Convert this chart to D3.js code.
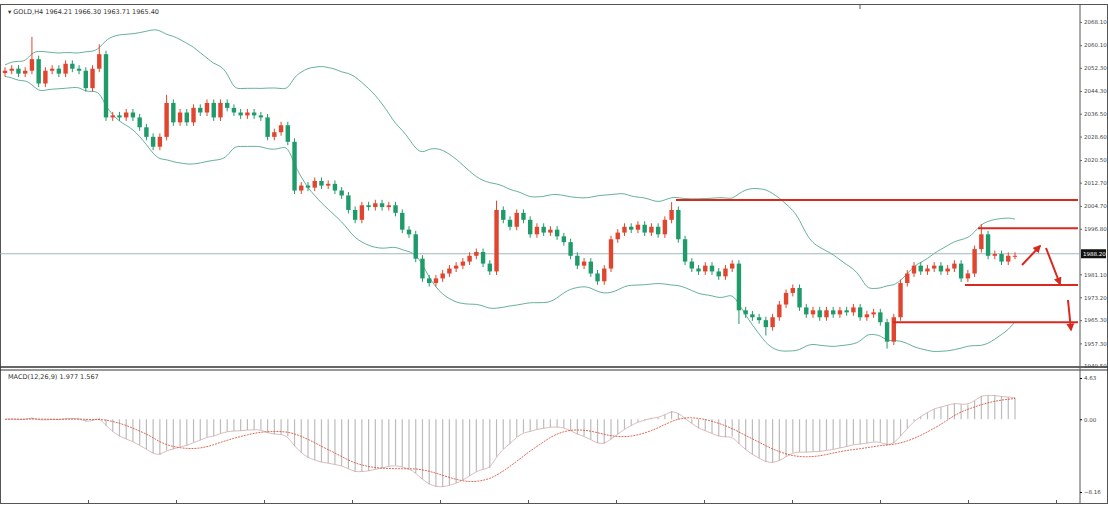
<!DOCTYPE html><html><head><meta charset="utf-8">
<script src="https://cdn.jsdelivr.net/npm/d3@7"></script>
<style>body{margin:0;background:#fff}svg{display:block}text{font-family:"DejaVu Sans",sans-serif}</style></head><body>
<svg id="c" width="1108" height="506"></svg>
<script>
const closes=[2051.3,2052.0,2050.3,2051.3,2055.3,2046.9,2051.3,2052.0,2050.3,2053.7,2052.0,2051.3,2045.3,2052.0,2057.0,
2035.2,2035.9,2035.2,2036.9,2035.2,2031.8,2028.5,2025.1,2028.5,2040.2,2033.5,2036.9,2033.5,2038.5,2036.9,2040.2,2035.2,2040.2,2038.5,2036.9,2035.9,2036.9,2035.9,2035.2,
2028.5,2030.1,2032.5,2026.8,2010.0,2011.7,2011.0,2013.3,2011.7,2012.3,2010.0,2008.3,2003.3,1999.9,2004.9,2004.3,2005.6,2004.3,2004.9,2002.3,
1996.5,1994.9,1986.5,1979.7,1978.1,1979.7,1981.4,1983.1,1984.1,1985.5,1987.5,1988.8,1984.8,1982.1,
2003.3,1999.9,1997.5,2002.3,1999.9,1994.9,1997.5,1995.5,1996.5,1994.2,1992.2,1987.5,1984.1,1985.5,1981.4,1978.7,1983.1,
1993.2,1995.5,1997.5,1996.5,1998.2,1995.5,1997.5,1994.9,1999.9,2003.3,
1993.2,1985.5,1983.1,1982.1,1984.1,1982.1,1980.4,1983.1,1984.8,
1968.7,1967.3,1966.3,1965.3,1962.9,1966.3,1970.7,1974.7,1976.4,1969.7,1967.3,1968.7,1966.3,1968.7,1967.3,1968.7,1968.0,1969.7,1966.3,1967.3,1968.0,1964.6,1957.9,1966.3,
1978.1,1981.4,1984.1,1982.1,1983.1,1984.1,1982.1,1983.1,1984.8,1979.7,1981.4,1989.8,1994.9,1987.5,1988.1,1985.5,1987.5,1987.5];
const firstOpen=2050.5;
const spikes=[{i:4,high:2063.0},{i:14,high:2060.4},{i:24,high:2043},{i:73,high:2006.5},{i:99,high:2006},{i:131,low:1955.5},{i:145,high:1998.5},{i:109,low:1964},{i:113,low:1960}];
const priceTicks=[2068.10,2060.10,2052.30,2044.30,2036.50,2028.60,2020.50,2012.70,2004.70,1996.80,1988.90,1981.10,1973.20,1965.30,1957.30,1949.50];
const levels=[{p:2006.7,x0:676},{p:1997.0,x0:978},{p:1977.4,x0:965},{p:1964.6,x0:893}];
const current=1988.2;
const macdTicks=[4.63,0.00,-8.16];
const header="▾ GOLD,H4  1964.21 1966.30 1963.71 1965.40";
const macdHeader="MACD(12,26,9) 1.977 1.567";

const svg=d3.select("#c");
const W=1108,axisX=1080,topY=4,mainB=367,mTop=370,mB=503;
const y=d3.scaleLinear().domain([2068.1,1949.5]).range([22,366]);
const x=d3.scaleLinear().domain([0,150]).range([5,1015]);
const ym=d3.scaleLinear().domain([4.63,-8.16]).range([378,492]);
svg.append("rect").attr("x",0.5).attr("y",topY+0.5).attr("width",W-1).attr("height",mB-topY).attr("fill","none").attr("stroke","#555");
svg.append("line").attr("x1",0).attr("x2",W).attr("y1",mainB).attr("y2",mainB).attr("stroke","#333").attr("stroke-width",1.5);
svg.append("line").attr("x1",0).attr("x2",W).attr("y1",mTop).attr("y2",mTop).attr("stroke","#333");
svg.append("line").attr("x1",axisX).attr("x2",axisX).attr("y1",topY).attr("y2",mB).attr("stroke","#555");
svg.append("line").attr("x1",860).attr("x2",860).attr("y1",topY).attr("y2",9).attr("stroke","#557");
const ax=svg.append("g").attr("transform",`translate(${axisX},0)`).call(d3.axisRight(y).tickValues(priceTicks).tickSize(2).tickPadding(2).tickFormat(d3.format(".2f")));
ax.select(".domain").remove();
ax.selectAll("text").attr("font-size",5.5).attr("fill","#444");
ax.selectAll("line").attr("stroke","#666");
const N=20, up=[],lo=[];
closes.forEach((c,i)=>{const s=closes.slice(Math.max(0,i-N+1),i+1);const m=d3.mean(s),sd=Math.sqrt(d3.mean(s,v=>(v-m)**2));up.push(m+2*sd+2);lo.push(m-2*sd-2);});
const ln=d3.line().x((d,i)=>x(i)).y(d=>y(d)).curve(d3.curveBasis);
[up,lo].forEach(a=>svg.append("path").attr("d",ln(a)).attr("fill","none").attr("stroke","#3f9c80").attr("stroke-width",0.8));
svg.append("line").attr("x1",0).attr("x2",axisX).attr("y1",y(current)).attr("y2",y(current)).attr("stroke","#8aa4b0").attr("stroke-width",0.8);
ax.selectAll(".tick").filter(d=>Math.abs(y(d)-y(current))<7).remove();
svg.append("rect").attr("x",axisX+1).attr("y",y(current)-4.5).attr("width",25).attr("height",9).attr("fill","#111");
svg.append("text").attr("x",axisX+3).attr("y",y(current)+2.5).attr("font-size",5.5).attr("fill","#fff").text(current.toFixed(2));
const g=svg.append("g");
closes.forEach((c,i)=>{
 const o=i?closes[i-1]:firstOpen; const sp=spikes.find(s=>s.i===i)||{};
 const hi=sp.high||Math.max(o,c)+1.2, lw=sp.low||Math.min(o,c)-1.2;
 const col=c>=o?"#e0452f":"#1f9a6a";
 g.append("line").attr("x1",x(i)).attr("x2",x(i)).attr("y1",y(hi)).attr("y2",y(lw)).attr("stroke",col).attr("stroke-width",1);
 g.append("rect").attr("x",x(i)-2.2).attr("width",4.4).attr("y",y(Math.max(o,c))).attr("height",Math.max(1,Math.abs(y(o)-y(c)))).attr("fill",col);
});
levels.forEach(l=>svg.append("line").attr("x1",l.x0).attr("x2",1078).attr("y1",y(l.p)).attr("y2",y(l.p)).attr("stroke","#d9281e").attr("stroke-width",2));
const defs=svg.append("defs");
defs.append("marker").attr("id","ah").attr("viewBox","0 0 10 10").attr("refX",8).attr("refY",5).attr("markerWidth",4).attr("markerHeight",4).attr("orient","auto").append("path").attr("d","M0,0L10,5L0,10z").attr("fill","#d9281e");
[[1022,265,1040,246],[1046,248,1060,284],[1068,300,1071,330]].forEach(a=>svg.append("line").attr("x1",a[0]).attr("y1",a[1]).attr("x2",a[2]).attr("y2",a[3]).attr("stroke","#d9281e").attr("stroke-width",2).attr("marker-end","url(#ah)"));
svg.append("text").attr("x",8).attr("y",14).attr("font-size",6.5).attr("fill","#333").text(header);
const ema=(a,n)=>{const k=2/(n+1);const r=[];a.forEach((v,i)=>r.push(i?v*k+r[i-1]*(1-k):v));return r;};
const e12=ema(closes,12),e26=ema(closes,26);
const raw=e12.map((v,i)=>v-e26[i]);
const f=-macdTicks[2]*0.93/d3.min(raw)*-1;
const macd=raw.map(v=>v*f);
const sig=d3.range(macd.length).map(i=>d3.mean(macd.slice(Math.max(0,i-8),i+1)));
const mg=svg.append("g");
macd.forEach((m,i)=>mg.append("line").attr("x1",x(i)).attr("x2",x(i)).attr("y1",ym(0)).attr("y2",ym(m)).attr("stroke","#bcbcbc").attr("stroke-width",1.2));
const ml=d3.line().x((d,i)=>x(i)).y(d=>ym(d)).curve(d3.curveBasis);
mg.append("path").attr("d",ml(macd)).attr("fill","none").attr("stroke","#c9a0a0").attr("stroke-width",0.7);
mg.append("path").attr("d",ml(sig)).attr("fill","none").attr("stroke","#d0452f").attr("stroke-width",0.8).attr("stroke-dasharray","2,1");
const max=svg.append("g").attr("transform",`translate(${axisX},0)`).call(d3.axisRight(ym).tickValues(macdTicks).tickSize(2).tickPadding(2).tickFormat(d3.format(".2f")));
max.select(".domain").remove();max.selectAll("text").attr("font-size",5.5).attr("fill","#444");
svg.append("text").attr("x",8).attr("y",379).attr("font-size",6.5).attr("fill","#333").text(macdHeader);
const xa=svg.append("g").attr("transform",`translate(0,${mB})`).call(d3.axisTop(d3.scaleLinear().domain([0,12]).range([0,1056])).ticks(12).tickSize(3).tickFormat(""));
xa.select(".domain").remove();xa.selectAll("line").attr("stroke","#555");
</script></body></html>
